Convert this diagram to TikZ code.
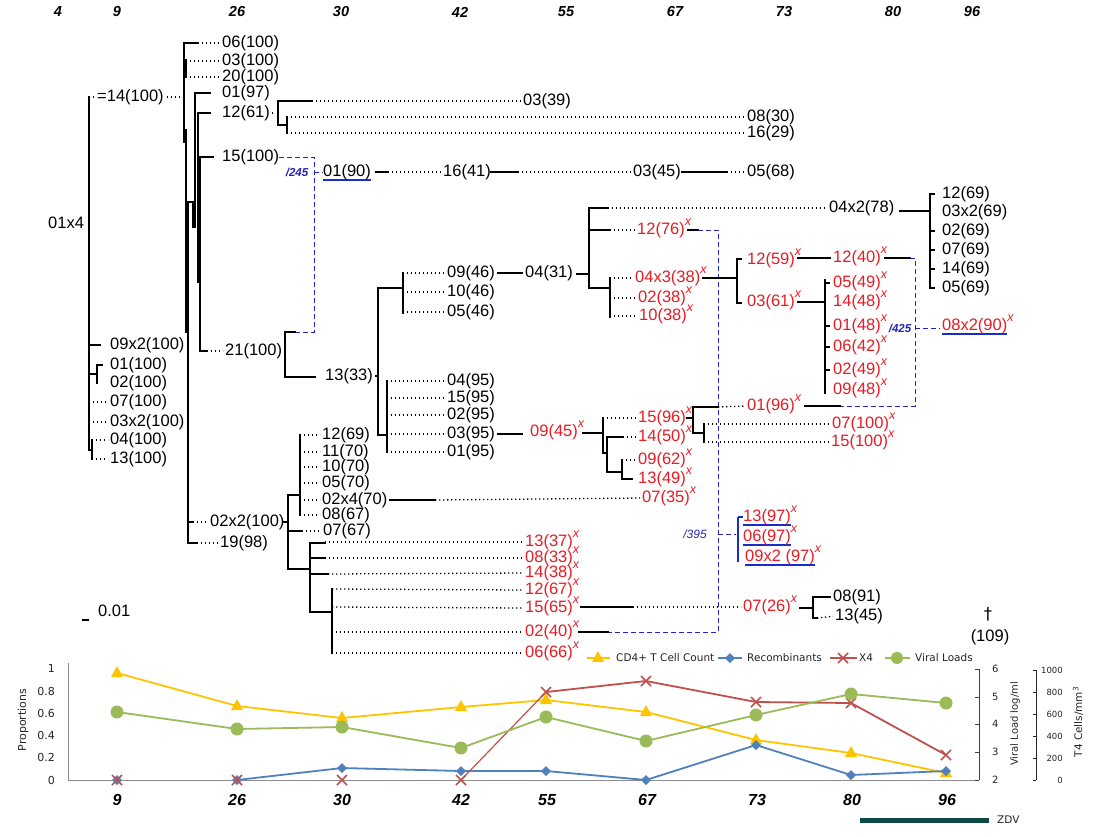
\documentclass[tikz,border=0pt]{standalone}
\usepackage{fontspec}
\setmainfont{Liberation Sans}
\newfontfamily\dvs{DejaVu Sans}
\definecolor{xred}{RGB}{232,28,36}
\definecolor{dblue}{RGB}{35,35,185}
\definecolor{ublue}{RGB}{25,45,200}
\definecolor{cyel}{RGB}{255,196,0}
\definecolor{cblu}{RGB}{79,129,189}
\definecolor{cred}{RGB}{192,80,77}
\definecolor{cgrn}{RGB}{155,187,89}
\definecolor{zdvc}{RGB}{14,74,69}
\definecolor{axg}{RGB}{140,140,140}
\newcommand\sx{\raisebox{8.5pt}{\fontsize{12.5}{12}\selectfont\itshape x}}
\newcommand\bul[1]{\setbox0\hbox{#1}\rlap{\textcolor{ublue}{\rule[-4.5pt]{\wd0}{2pt}}}\box0}
\begin{document}
\begin{tikzpicture}[x=1pt,y=-1pt,
  br/.style={line width=2.4pt,line cap=rect},
  dt/.style={line width=1.3pt,dash pattern=on 1.3pt off 2.7pt,shorten >=2pt},
  bd/.style={dblue,line width=1pt,dash pattern=on 5pt off 3pt},
  lab/.style={anchor=west,inner sep=0pt,font=\fontsize{16.5}{18}\selectfont,text height=12pt,text depth=3.5pt},
  rlab/.style={lab,text=xred},
  hd/.style={font=\fontsize{14.5}{16}\selectfont\bfseries\itshape,inner sep=0pt},
  ft/.style={font=\fontsize{16}{18}\selectfont\bfseries\itshape,inner sep=0pt},
  sl/.style={font=\fontsize{11.5}{12}\selectfont\bfseries\itshape,text=dblue,inner sep=0pt},
  ck/.style={font=\dvs\fontsize{10}{12}\selectfont,text=black!85,inner sep=0pt},
  ckk/.style={font=\dvs\fontsize{8.5}{10}\selectfont,text=black!85,inner sep=0pt},
]
\useasboundingbox (0,0) rectangle (1094,836);
\fill[white] (0,0) rectangle (1094,836);

% ---------- time headers ----------
\foreach \t/\x in {4/58,9/117,26/237,30/341,42/460,55/566,67/675,73/784,80/893,96/972}
  \node[hd] (top\t) at (\x,12) {\t};
\foreach \t/\x in {9/117,26/237,30/342,42/461,55/547,67/647,73/757,80/852,96/947}
  \node[ft] (bot\t) at (\x,800) {\t};

% ---------- root ----------
\node[lab] (n14) at (97,97) {=14(100)};
\node[lab] (n01x4) at (48,224) {01x4};
\draw[br] (89,97) -- (89,450);
\draw[dt] (89,97) -- (n14.west);
\draw[dt,shorten <=3pt] (n14.east) -- (184,97);
\node[lab] (r09x2) at (110,345) {09x2(100)};
\draw[br] (89,345) -- (100,345);
\node[lab] (r01) at (110,365) {01(100)};
\node[lab] (r02) at (110,383) {02(100)};
\draw[br] (89,374) -- (97,374);
\draw[br] (97,365) -- (97,383);
\draw[br] (97,365) -- (102,365);
\node[lab] (r07) at (110,402) {07(100)};
\draw[dt] (89,402) -- (r07.west);
\node[lab] (r03x2) at (110,422) {03x2(100)};
\draw[dt] (89,422) -- (r03x2.west);
\node[lab] (r04) at (110,440) {04(100)};
\node[lab] (r13) at (110,459) {13(100)};
\draw[br] (89,450) -- (92,450);
\draw[br] (92,440) -- (92,459);
\draw[dt] (92,440) -- (r04.west);
\draw[dt] (92,459) -- (r13.west);

% ---------- second level spines ----------
\draw[br] (184,43) -- (184,142);
\draw[br] (186,60) -- (186,77);
\draw[br] (186,130) -- (186,332);
\draw[br] (188,202) -- (188,543);
\draw[br] (186,202) -- (193,202);
\draw[br] (193,202) -- (193,227);
\draw[br] (195,93) -- (195,227);
\draw[br] (198,114) -- (198,282);
\draw[br] (200,157) -- (200,351);

\node[lab] (t06) at (222,43) {06(100)};
\node[lab] (t03) at (222,61) {03(100)};
\node[lab] (t20) at (222,77) {20(100)};
\node[lab] (t01) at (222,93) {01(97)};
\node[lab] (t12) at (222,113) {12(61)};
\node[lab] (t15) at (222,157) {15(100)};
\node[lab] (t21) at (225,351) {21(100)};
\draw[br] (184,43) -- (198,43);
\draw[dt] (198,43) -- (t06.west);
\draw[dt] (186,61) -- (t03.west);
\draw[dt] (186,77) -- (t20.west);
\draw[br] (195,93) -- (210,93);
\draw[br] (198,113) -- (210,113);
\draw[br] (200,157) -- (213,157);
\draw[br] (200,351) -- (207,351);
\draw[dt] (207,351) -- (t21.west);

% ---------- 12(61) clade ----------
\node[lab] (c0339) at (523,101) {03(39)};
\node[lab] (c0830) at (747,117) {08(30)};
\node[lab] (c1629) at (747,133) {16(29)};
\draw[dt,shorten <=2pt] (t12.east) -- (278,113);
\draw[br] (278,101) -- (278,125);
\draw[br] (278,101) -- (312,101);
\draw[dt] (312,101) -- (c0339.west);
\draw[br] (278,125) -- (287,125);
\draw[br] (287,117) -- (287,133);
\draw[dt] (287,117) -- (c0830.west);
\draw[dt] (287,133) -- (c1629.west);

% ---------- 15(100) / 245 chain ----------
\draw[bd] (t15.east) -- (314,157) -- (314,332) -- (295,332);
\node[sl] (s245) at (297,172) {/245};
\node[lab] (c0190) at (323,172) {\bul{01(90)}};
\draw[bd] (314,172) -- (c0190.west);
\node[lab] (c1641) at (443,172) {16(41)};
\node[lab] (c0345) at (633,172) {03(45)};
\node[lab] (c0568) at (747,172) {05(68)};
\draw[br] (376,172) -- (388,172);
\draw[dt] (388,172) -- (c1641.west);
\draw[br] (c1641.east) -- (518,172);
\draw[dt] (518,172) -- (c0345.west);
\draw[br] ([xshift=1pt]c0345.east) -- (727,172);
\draw[dt] (727,172) -- (c0568.west);

% ---------- 21(100) / 13(33) ----------
\draw[br] (285,332) -- (285,377);
\draw[br] (285,332) -- (295,332);
\draw[br] (285,377) -- (315,377);
\node[lab] (n1333) at (325,376) {13(33)};
\draw[br] ([xshift=3pt]n1333.east) -- (378,376);
\draw[br] (378,288) -- (378,435);
\draw[br] (378,288) -- (403,288);
\draw[br] (403,273) -- (403,313);
\node[lab] (d0946) at (447,273) {09(46)};
\node[lab] (d1046) at (447,292) {10(46)};
\node[lab] (d0546) at (447,312) {05(46)};
\draw[dt] (403,273) -- (d0946.west);
\draw[dt] (403,292) -- (d1046.west);
\draw[dt] (403,312) -- (d0546.west);
\node[lab] (d0431) at (525,273) {04(31)};
\draw[br] (498,273) -- (522,273);
\draw[br] (577,274) -- (589,274);
\draw[br] (589,208) -- (589,288);

% 04x2(78)
\node[lab] (e04x2) at (829,208) {04x2(78)};
\draw[br] (589,208) -- (608,208);
\draw[dt] (608,208) -- (e04x2.west);
\draw[br] (900,211) -- (930,211);
\draw[br] (930,194) -- (930,288);
\foreach \y in {194,231,250,269,288} \draw[br] (930,\y) -- (934,\y);
\node[lab] (f12) at (942,194) {12(69)};
\node[lab] (f03) at (942,212) {03x2(69)};
\node[lab] (f02) at (942,231) {02(69)};
\node[lab] (f07) at (942,250) {07(69)};
\node[lab] (f14) at (942,269) {14(69)};
\node[lab] (f05) at (942,288) {05(69)};

% 12(76)x
\node[rlab] (g1276) at (637,230) {12(76)\sx};
\draw[br] (589,230) -- (610,230);
\draw[dt] (610,230) -- (g1276.west);
\draw[br] (688,230) -- (698,230);
\draw[bd] (698,230) -- (718,230) -- (718,632) -- (608,632);

% 04x3 clade
\draw[br] (589,288) -- (610,288);
\draw[br] (610,278) -- (610,317);
\node[rlab] (g04x3) at (635,278) {04x3(38)\sx};
\node[rlab] (g0238) at (638,298) {02(38)\sx};
\node[rlab] (g1038) at (639,316) {10(38)\sx};
\draw[dt] (610,278) -- (g04x3.west);
\draw[dt] (610,298) -- (g0238.west);
\draw[dt] (610,316) -- (g1038.west);
\draw[br] (703,278) -- (737,278);
\draw[br] (737,259) -- (737,303);
\draw[br] (737,259) -- (741,259);
\draw[br] (737,303) -- (741,303);
\node[rlab] (h1259) at (747,260) {12(59)\sx};
\node[rlab] (h0361) at (747,302) {03(61)\sx};
\node[rlab] (h1240) at (833,258) {12(40)\sx};
\draw[br] (798,258) -- (830,258);
\draw[br] (885,258) -- (910,258);
\draw[bd] (910,258) -- (915,258) -- (915,406) -- (840,406);
\draw[br] (798,302) -- (825,302);
\draw[br] (825,280) -- (825,393);
\foreach \y in {283,326,347,370} \draw[br] (825,\y) -- (829,\y);
\node[rlab] (i0549) at (833,283) {05(49)\sx};
\node[rlab] (i1448) at (833,302) {14(48)\sx};
\node[rlab] (i0148) at (833,326) {01(48)\sx};
\node[rlab] (i0642) at (833,347) {06(42)\sx};
\node[rlab] (i0249) at (833,370) {02(49)\sx};
\node[rlab] (i0948) at (833,390) {09(48)\sx};
\node[sl] (s425) at (900,328) {/425};
\draw[bd] (915,328) -- (940,328);
\node[rlab] (j08x2) at (942,326) {\bul{08x2(90)}\sx};

% ---------- 13(33) lower ----------
\draw[br] (378,435) -- (387,435);
\draw[br] (387,381) -- (387,452);
\node[lab] (k0495) at (447,381) {04(95)};
\node[lab] (k1595) at (447,398) {15(95)};
\node[lab] (k0295) at (447,415) {02(95)};
\node[lab] (k0395) at (447,434) {03(95)};
\node[lab] (k0195) at (447,452) {01(95)};
\foreach \n/\y in {k0495/381,k1595/398,k0295/415,k0395/434,k0195/452}
  \draw[dt] (387,\y) -- (\n.west);
\draw[br] (498,434) -- (522,434);
\node[rlab] (l0945) at (530,432) {09(45)\sx};
\draw[br] (583,433) -- (603,433);
\draw[br] (603,418) -- (603,453);
\node[rlab] (m1596) at (638,418) {15(96)\sx};
\node[rlab] (m1450) at (638,437) {14(50)\sx};
\node[rlab] (m0962) at (638,460) {09(62)\sx};
\node[rlab] (m1349) at (638,479) {13(49)\sx};
\draw[dt] (603,418) -- (m1596.west);
\draw[br] (603,453) -- (607,453);
\draw[br] (607,437) -- (607,472);
\draw[br] (607,437) -- (623,437);
\draw[dt] (623,437) -- (m1450.west);
\draw[br] (607,472) -- (622,472);
\draw[br] (622,460) -- (622,479);
\draw[dt] (622,460) -- (m0962.west);
\draw[br] (622,479) -- (632,479);
\draw[br] (687,418) -- (693,418);
\draw[br] (693,407) -- (693,433);
\draw[br] (693,407) -- (718,407);
\node[rlab] (o0196) at (747,406) {01(96)\sx};
\draw[dt] (718,407) -- (o0196.west);
\draw[br] (805,406) -- (840,406);
\draw[br] (693,433) -- (704,433);
\draw[br] (704,424) -- (704,442);
\node[rlab] (o07100) at (832,424) {07(100)\sx};
\node[rlab] (o15100) at (831,442) {15(100)\sx};
\draw[dt] (704,424) -- (o07100.west);
\draw[dt] (704,442) -- (o15100.west);

% ---------- bottom clade ----------
\node[lab] (p02x2) at (210,522) {02x2(100)};
\node[lab] (p1998) at (220,543) {19(98)};
\draw[br] (188,522) -- (193,522);
\draw[dt] (193,522) -- (p02x2.west);
\draw[br] (188,543) -- (197,543);
\draw[dt] (197,543) -- (p1998.west);
\draw[br] (283,522) -- (288,522);
\draw[br] (288,495) -- (288,569);
\draw[br] (288,495) -- (300,495);
\draw[br] (300,435) -- (300,515);
\node[lab] (q1269) at (322,435) {12(69)};
\node[lab] (q1170) at (322,452) {11(70)};
\node[lab] (q1070) at (322,467) {10(70)};
\node[lab] (q0570) at (322,483) {05(70)};
\node[lab] (q02x4) at (322,500) {02x4(70)};
\node[lab] (q0867) at (322,515) {08(67)};
\node[lab] (q0767) at (323,531) {07(67)};
\foreach \n/\y in {q1269/435,q1170/452,q1070/467,q0570/483,q02x4/500,q0867/515}
  \draw[dt] (300,\y) -- (\n.west);
\draw[br] (288,531) -- (302,531);
\draw[dt] (302,531) -- (q0767.west);
\node[rlab] (u0735) at (642,498) {07(35)\sx};
\draw[br] (390,500) -- (435,500);
\draw[dt] (435,500) -- (u0735.west);
\draw[br] (288,569) -- (310,569);
\draw[br] (310,543) -- (310,612);
\node[rlab] (v1337) at (525,542) {13(37)\sx};
\node[rlab] (v0833) at (525,558) {08(33)\sx};
\node[rlab] (v1438) at (525,573) {14(38)\sx};
\node[rlab] (v1267) at (525,590) {12(67)\sx};
\node[rlab] (v1565) at (525,608) {15(65)\sx};
\node[rlab] (v0240) at (525,632) {02(40)\sx};
\node[rlab] (v0666) at (525,653) {06(66)\sx};
\draw[br] (310,543) -- (325,543);
\draw[dt] (325,542) -- (v1337.west);
\draw[br] (310,558) -- (325,558);
\draw[dt] (325,558) -- (v0833.west);
\draw[br] (310,574) -- (328,574);
\draw[dt] (328,574) -- (v1438.west);
\draw[br] (310,612) -- (332,612);
\draw[br] (332,589) -- (332,653);
\foreach \n/\y in {v1267/589,v1565/607,v0240/632,v0666/653}
  \draw[dt] (332,\y) -- (\n.west);
\draw[br] (581,607) -- (633,607);
\node[rlab] (w0726) at (743,607) {07(26)\sx};
\draw[dt] (633,607) -- (w0726.west);
\draw[br] (800,608) -- (813,608);
\draw[br] (813,597) -- (813,618);
\draw[br] (813,597) -- (830,597);
\node[lab] (w0891) at (833,597) {08(91)};
\node[lab] (w1345) at (835,616) {13(45)};
\draw[br] (813,618) -- (817,618);
\draw[dt] (817,618) -- (w1345.west);
\draw[br] (579,632) -- (608,632);

% /395
\node[font=\fontsize{12}{12}\selectfont\itshape,text=dblue,inner sep=0pt] (s395) at (695,534) {/395};
\draw[bd] (718,534) -- (736,534);
\draw[ublue,line width=2.4pt] (738,517) -- (738,562);
\draw[ublue,line width=2.4pt] (738,517) -- (743,517);
\node[rlab] (x1397) at (743,517) {\bul{13(97)}\sx};
\node[rlab] (x0697) at (743,537) {\bul{06(97)}\sx};
\node[rlab] (x09x2) at (745,557) {\bul{09x2 (97)}\sx};

% scale and death mark
\draw[line width=1.3pt] (82,620) -- (89,620);
\node[lab] (scale) at (98,612) {0.01};
\node[lab,anchor=center] (dag) at (988,615) {\dvs †};
\node[lab,anchor=center] (d109) at (990,637) {(109)};

% ---------- chart ----------
\draw[axg,line width=0.8pt] (68,663) -- (68,780) -- (979,780);
\draw[black!75,line width=0.8pt] (979,669) -- (979,780);
\foreach \y in {669,697,724,752,780} \draw[black!75,line width=0.8pt] (975,\y) -- (979,\y);
\foreach \v/\y in {6/669,5/697,4/724,3/752,2/780} \node[ck,anchor=west] at (992,\y) {\v};
\draw[black!85,line width=0.8pt] (1036,670) -- (1036,780);
\foreach \y in {670,692,714,736,758,780} \draw[black!85,line width=0.8pt] (1033,\y) -- (1036,\y);
\foreach \v/\y in {1000/670,800/692,600/714,400/736,200/758,0/780} \node[ckk,anchor=east] at (1063,\y) {\v};
\foreach \v/\y in {1/668,0.8/691,0.6/713,0.4/735,0.2/757,0/780} \node[ck,anchor=east,font=\dvs\fontsize{11}{12}\selectfont] at (55,\y) {\v};
\node[ck,font=\dvs\fontsize{11}{12}\selectfont,rotate=90] (yl) at (23,720) {Proportions};
\node[ck,font=\dvs\fontsize{10}{12}\selectfont,rotate=90] (yr1) at (1015,724) {Viral Load log/ml};
\node[ck,font=\dvs\fontsize{10.5}{12}\selectfont,rotate=90] (yr2) at (1078,722) {T4 Cells/mm\textsuperscript{3}};

% series
\draw[cyel,line width=1.8pt] (117,673) -- (237,706) -- (342,718) -- (461,707) -- (546,700) -- (646,712) -- (756,740) -- (851,753) -- (946,773);
\foreach \x/\y in {117/673,237/706,342/718,461/707,546/700,646/712,756/740,851/753,946/773}
  \fill[cyel] (\x,\y-7) -- (\x+6,\y+4) -- (\x-6,\y+4) -- cycle;
\draw[cblu,line width=1.8pt] (237,780) -- (342,768) -- (461,771) -- (546,771) -- (646,780) -- (756,745) -- (851,775) -- (946,771);
\foreach \x/\y in {117/780,237/780,342/768,461/771,546/771,646/780,756/745,851/775,946/771}
  \fill[cblu] (\x,\y-5) -- (\x+5,\y) -- (\x,\y+5) -- (\x-5,\y) -- cycle;
\draw[cred,line width=1.2pt] (461,780) -- (546,692);
\draw[cred,line width=1.8pt] (546,692) -- (646,681) -- (756,702) -- (851,703) -- (946,755);
\foreach \x/\y in {117/780,237/780,342/780,461/780,546/692,646/681,756/702,851/703,946/755}
  \draw[cred,line width=1.6pt] (\x-5,\y-5) -- (\x+5,\y+5) (\x-5,\y+5) -- (\x+5,\y-5);
\draw[cgrn,line width=1.8pt] (117,712) -- (237,729) -- (342,727) -- (461,748) -- (546,717) -- (646,741) -- (756,715) -- (851,694) -- (946,703);
\foreach \x/\y in {117/712,237/729,342/727,461/748,546/717,646/741,756/715,851/694,946/703}
  \fill[cgrn] (\x,\y) circle (6.5pt);

% legend
\draw[cyel,line width=1.8pt] (587,658) -- (610,658);
\fill[cyel] (598,651) -- (604,662) -- (592,662) -- cycle;
\node[ck,anchor=west,font=\dvs\fontsize{10.5}{12}\selectfont] (lg1) at (616,658) {CD4+ T Cell Count};
\draw[cblu,line width=1.8pt] (718,658) -- (742,658);
\fill[cblu] (730,653) -- (735,658) -- (730,663) -- (725,658) -- cycle;
\node[ck,anchor=west,font=\dvs\fontsize{10.5}{12}\selectfont] (lg2) at (747,658) {Recombinants};
\draw[cred,line width=1.8pt] (830,658) -- (857,658);
\draw[cred,line width=1.6pt] (838,653) -- (848,663) (838,663) -- (848,653);
\node[ck,anchor=west,font=\dvs\fontsize{10.5}{12}\selectfont] (lg3) at (859,658) {X4};
\draw[cgrn,line width=1.8pt] (885,658) -- (910,658);
\fill[cgrn] (897,658) circle (6pt);
\node[ck,anchor=west,font=\dvs\fontsize{10.5}{12}\selectfont] (lg4) at (915,658) {Viral Loads};

% ZDV
\draw[zdvc,line width=5pt] (860,820) -- (989,820);
\node[ck,anchor=west,font=\dvs\fontsize{10.5}{12}\selectfont] (zdv) at (997,820) {ZDV};
\end{tikzpicture}
\end{document}
